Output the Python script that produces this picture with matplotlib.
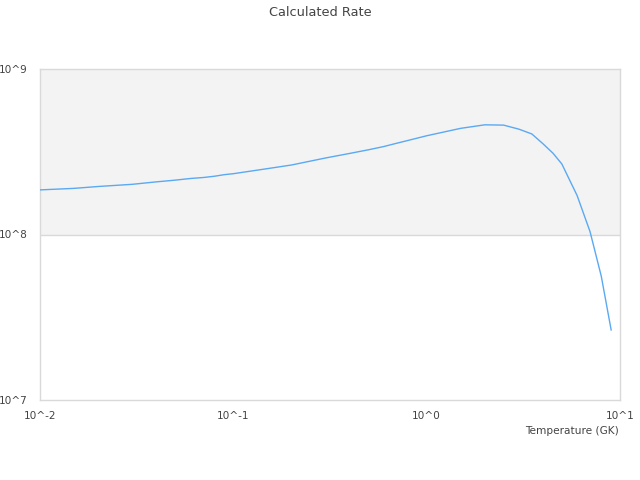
import matplotlib
matplotlib.use("Agg")
import matplotlib.pyplot as plt

# temperature grid (GK) and calculated rate
temperature = [
    0.01, 0.015, 0.02, 0.03, 0.04, 0.05, 0.06, 0.07, 0.08, 0.09,
    0.1, 0.15, 0.2, 0.3, 0.4, 0.5, 0.6, 0.7, 0.8, 0.9,
    1.0, 1.5, 2.0, 2.5, 3.0, 3.5, 4.0, 4.5, 5.0, 6.0, 7.0, 8.0, 9.0,
]
rate = [
    1.86e8, 1.90e8, 1.95e8, 2.01e8, 2.08e8, 2.13e8, 2.18e8, 2.21e8, 2.25e8, 2.30e8,
    2.33e8, 2.50e8, 2.63e8, 2.90e8, 3.09e8, 3.25e8, 3.40e8, 3.56e8, 3.70e8, 3.83e8,
    3.95e8, 4.38e8, 4.60e8, 4.58e8, 4.33e8, 4.05e8, 3.53e8, 3.10e8, 2.67e8,
    1.72e8, 1.04e8, 5.6e7, 2.65e7,
]

x_ticks = [0.01, 0.1, 1, 10]
x_labels = ["10^-2", "10^-1", "10^0", "10^1"]
y_ticks = [1e7, 1e8, 1e9]
y_labels = ["10^7", "10^8", "10^9"]

text_col = "#444444"
grid_col = "#d9d9d9"

fig = plt.figure(figsize=(6.4, 4.8), dpi=100)
ax = fig.add_axes([40 / 640, 1 - 400 / 480, 580 / 640, 331 / 480])

ax.axhspan(1e8, 1e9, color="#f3f3f3", zorder=0, lw=0)
ax.axhline(1e8, color=grid_col, lw=1, zorder=1)
ax.plot(temperature, rate, color="#5aa9f2", lw=1, zorder=3)

ax.set_xscale("log")
ax.set_yscale("log")
ax.set_xlim(0.01, 10)
ax.set_ylim(1e7, 1e9)
ax.set_xticks(x_ticks, labels=x_labels)
ax.set_yticks(y_ticks, labels=y_labels)
ax.minorticks_off()
ax.tick_params(length=0, labelsize=7.6, labelcolor=text_col)
ax.tick_params(axis="x", pad=8)
ax.tick_params(axis="y", pad=9)

for s in ax.spines.values():
    s.set_color(grid_col)
    s.set_linewidth(1)

fig.text(0.5, 1 - 12 / 480, "Calculated Rate", ha="center", va="center",
         fontsize=9.3, color=text_col)
fig.text(619 / 640, 1 - 431 / 480, "Temperature (GK)", ha="right", va="center",
         fontsize=7.6, color=text_col)

fig.savefig("out.png", dpi=100)
